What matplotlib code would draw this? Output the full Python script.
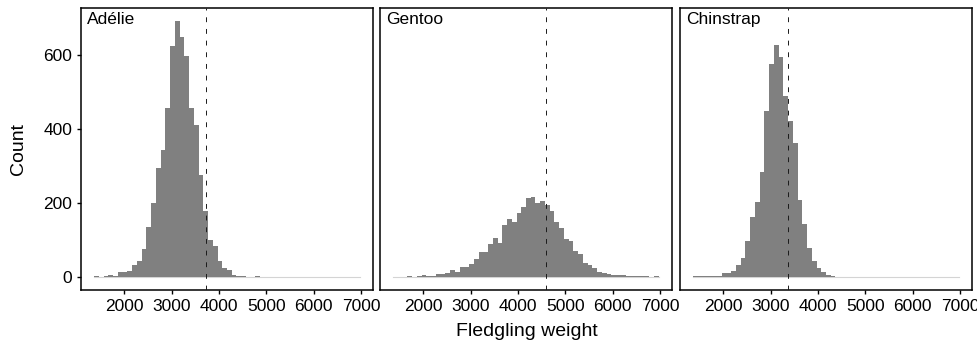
import numpy as np
import matplotlib
matplotlib.use("Agg")
import matplotlib.pyplot as plt

plt.rcParams["font.family"] = ["Liberation Sans", "DejaVu Sans"]

# Histogram bins (binwidth 100) shared by all panels
bin_edges = np.arange(1370, 6971, 100)

species = ["Adélie", "Gentoo", "Chinstrap"]

adelie_counts = [2, 1, 2, 6, 2, 13, 15, 18, 34, 43, 76, 136, 199, 296, 344, 456,
                 624, 692, 648, 596, 456, 412, 275, 179, 100, 83, 44, 24, 19, 7,
                 4, 2, 0, 0, 2] + [0] * 21
gentoo_counts = [0, 0, 0, 2, 1, 3, 5, 3, 3, 8, 8, 11, 19, 15, 27, 27, 35, 49, 67,
                 67, 89, 106, 92, 140, 157, 150, 173, 189, 214, 217, 200, 206,
                 195, 179, 150, 133, 103, 97, 70, 62, 37, 32, 24, 15, 12, 9, 7,
                 7, 5, 3, 2, 2, 2, 2, 0, 2]
chinstrap_counts = [2, 2, 4, 4, 2, 4, 10, 10, 16, 34, 53, 98, 162, 203, 283, 449,
                    576, 628, 594, 488, 421, 361, 209, 143, 80, 45, 24, 13, 5,
                    2] + [0] * 26

# dotted reference line per species
mean_weights = [3720, 4600, 3360]

y_ticks = [0, 200, 400, 600]
x_ticks = [2000, 3000, 4000, 5000, 6000, 7000]

all_counts = [adelie_counts, gentoo_counts, chinstrap_counts]

W, H = 978, 347
fig = plt.figure(figsize=(W / 100, H / 100), dpi=100)

panel_left = [81, 380, 680]
panel_w = 292
bottom, top = 290, 8

x_span = bin_edges[-1] - bin_edges[0]
xlim = (bin_edges[0] - 0.05 * x_span, bin_edges[-1] + 0.05 * x_span)
ymax = max(max(c) for c in all_counts)
ylim = (-0.05 * ymax, 1.05 * ymax)

for i, (name, counts, m) in enumerate(zip(species, all_counts, mean_weights)):
    ax = fig.add_axes([panel_left[i] / W, 1 - bottom / H,
                       panel_w / W, (bottom - top) / H])
    # thin line where bins are empty
    ax.plot([bin_edges[0], bin_edges[-1]], [0, 0], color="#d4d4d4", lw=0.8, zorder=1)
    ax.bar(bin_edges[:-1], counts, width=np.diff(bin_edges), align="edge",
           color="#808080", edgecolor="none", zorder=2)
    ax.axvline(m, color="#1a1a1a", lw=0.7, linestyle=(0, (5, 7)), zorder=3)

    ax.set_xlim(xlim)
    ax.set_ylim(ylim)
    ax.set_xticks(x_ticks)
    ax.set_xticklabels([str(t) for t in x_ticks])
    ax.tick_params(axis="x", length=3.2, width=1, labelsize=12.5, pad=3,
                   colors="black")
    if i == 0:
        ax.set_yticks(y_ticks)
        ax.tick_params(axis="y", length=3.2, width=1, labelsize=12.5, pad=3)
    else:
        ax.set_yticks([])
    for s in ax.spines.values():
        s.set_linewidth(1.1)
        s.set_color("black")

    ax.text(0.02, 0.985, name, transform=ax.transAxes, ha="left", va="top",
            fontsize=12.5)

fig.text((81 + 972) / 2 / W, 1 - 331 / H, "Fledgling weight", ha="center",
         va="center", fontsize=14)
fig.text(18 / W, 1 - 149 / H, "Count", ha="center", va="center",
         rotation=90, fontsize=14)

fig.savefig("out.png", dpi=100)
